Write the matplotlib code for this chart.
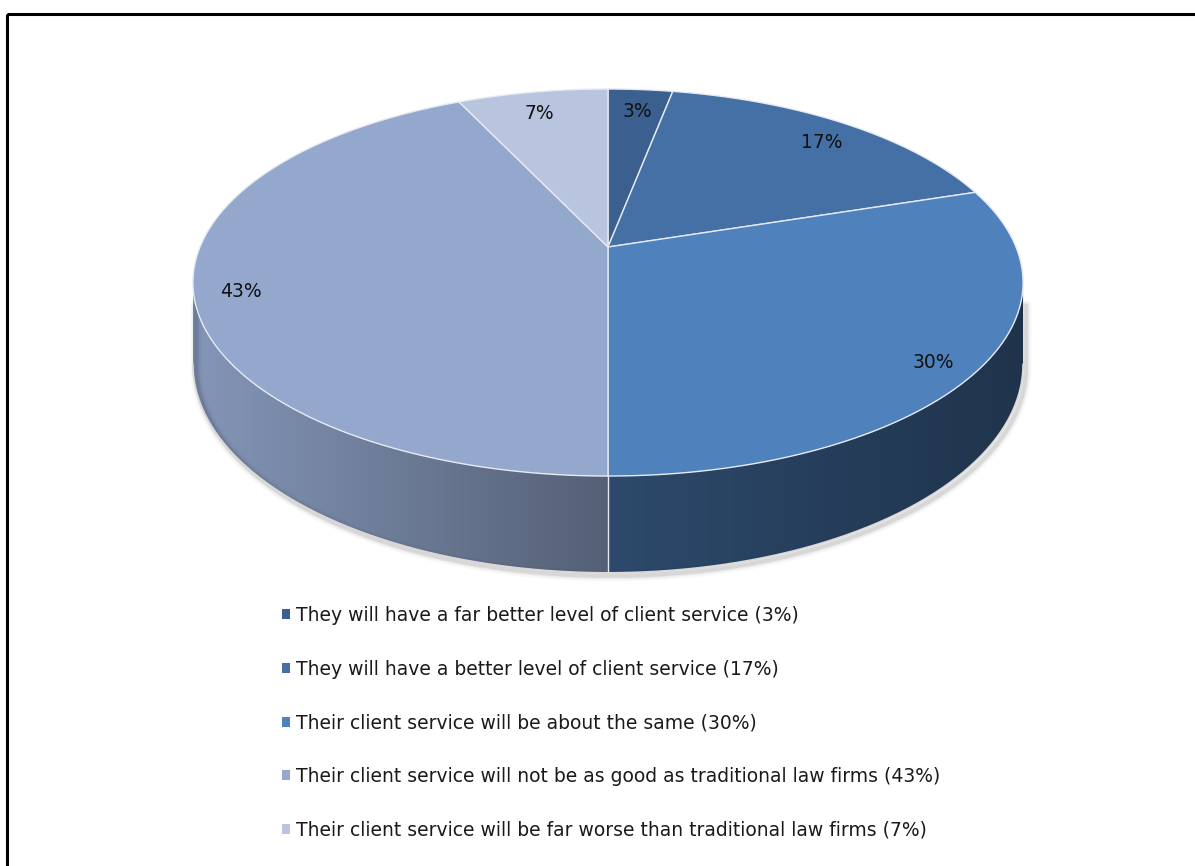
import numpy as np
import matplotlib
matplotlib.use("Agg")
import matplotlib.pyplot as plt
from matplotlib.patches import Polygon, Rectangle, Patch
from matplotlib.colors import to_rgb

plt.rcParams["font.family"] = ["DejaVu Sans"]

# survey answers, clockwise from 12 o'clock
labels = [
    "They will have a far better level of client service (3%)",
    "They will have a better level of client service (17%)",
    "Their client service will be about the same (30%)",
    "Their client service will not be as good as traditional law firms (43%)",
    "Their client service will be far worse than traditional law firms (7%)",
]
shares = [3, 17, 30, 43, 7]
pct_labels = ["3%", "17%", "30%", "43%", "7%"]
colors = ["#3B5F8E", "#4470A6", "#4F81BD", "#94A8CE", "#B9C5DE"]

W, H = 1195, 866

# disc placement in pixel units (y grows downward)
CX, CY = 608, 247
A, B = 408, 187
K = 0.1835      # perspective: far rim shrinks, near rim grows
DEPTH = 79      # thickness of the disc


def project(t, r=1.0, drop=0.0):
    u = r * np.sin(t)
    v = r * np.cos(t)
    w = 1 + K * v
    return CX + A * u / w, CY - B * v / w + drop / w


# angles where the rim turns (left / right extremes of the ellipse)
t_right = np.arccos(-K)
t_left = 2 * np.pi - t_right
x_left = CX - A / np.sqrt(1 - K ** 2)
x_right = CX + A / np.sqrt(1 - K ** 2)


def shade(x):
    # light comes from the left
    return np.interp(x, [x_left, CX, x_right], [0.89, 0.57, 0.40])


fig = plt.figure(figsize=(W / 100, H / 100), dpi=100)
ax = fig.add_axes([0, 0, 1, 1])
ax.set_xlim(0, W)
ax.set_ylim(H, 0)
ax.axis("off")

fracs = np.array(shares, dtype=float) / sum(shares)
edges = np.concatenate([[0], np.cumsum(fracs)]) * 2 * np.pi

# soft shadow around the side wall
ts = np.linspace(t_right, t_left, 300)
bx, by = project(ts, 1, DEPTH)
rx0, ry0 = project(t_right, 1)
lx0, ly0 = project(t_left, 1)
sx = np.concatenate([[rx0], bx, [lx0]])
sy = np.concatenate([[ry0 + 20], by, [ly0 + 20]])
for lw, a in [(8, 0.03), (5, 0.05), (3, 0.08)]:
    ax.plot(sx + 3, sy + 3, color="black", lw=lw, alpha=a, solid_capstyle="round")

# side walls with horizontal gradient
for i in range(len(shares)):
    a0 = max(edges[i], t_right)
    a1 = min(edges[i + 1], t_left)
    if a1 <= a0:
        continue
    tt = np.linspace(a0, a1, 200)
    tx, ty = project(tt, 1)
    bx, by = project(tt[::-1], 1, DEPTH)
    pts = np.column_stack([np.concatenate([tx, bx]), np.concatenate([ty, by])])
    clip = Polygon(pts, closed=True, facecolor="none", edgecolor="none")
    ax.add_patch(clip)
    x0, x1 = pts[:, 0].min(), pts[:, 0].max()
    y0, y1 = pts[:, 1].min(), pts[:, 1].max()
    cols = np.linspace(x0, x1, 256)
    grad = np.array(to_rgb(colors[i]))[None, :] * shade(cols)[:, None]
    img = np.repeat(grad[None, :, :], 2, axis=0)
    im = ax.imshow(img, extent=(x0, x1, y1, y0), aspect="auto", interpolation="bilinear", zorder=1)
    im.set_clip_path(clip)

# seams on the side wall
for e in edges:
    if t_right < e < t_left:
        x0, y0 = project(e, 1)
        x1, y1 = project(e, 1, DEPTH)
        ax.plot([x0, x1], [y0, y1], color="#E4E8F0", lw=1.0, zorder=2)

# bottom rim highlight
bx, by = project(ts, 1, DEPTH)
ax.plot(bx, by, color="#D8D8D8", lw=1.2, zorder=2)

# top faces
for i in range(len(shares)):
    tt = np.linspace(edges[i], edges[i + 1], 200)
    tx, ty = project(tt, 1)
    pts = np.column_stack([np.concatenate([[CX], tx]), np.concatenate([[CY], ty])])
    ax.add_patch(Polygon(pts, closed=True, facecolor=colors[i], edgecolor="#E6EAF2",
                         lw=1.0, joinstyle="round", zorder=3))

# percentage labels inside the slices
for i, txt in enumerate(pct_labels):
    mid = (edges[i] + edges[i + 1]) / 2
    lx, ly = project(mid, 0.89)
    ax.text(lx, ly + 7, txt, fontsize=13.5, color="#111111", ha="center", va="center", zorder=4)

handles = [Patch(facecolor=c, edgecolor="none") for c in colors]
ax.legend(handles, labels, loc="upper left", bbox_to_anchor=(282, 606),
          bbox_transform=ax.transData, frameon=False, fontsize=13.5,
          handlelength=0.45, handleheight=0.45, handletextpad=0.3,
          labelspacing=1.85, borderpad=0, borderaxespad=0, labelcolor="#1A1A1A")

# outer frame (only left and top edges fall inside the image)
ax.add_patch(Rectangle((7, 14), W + 20, H + 20, facecolor="none", edgecolor="black",
                       lw=2.2, zorder=5))

fig.savefig("out.png", dpi=100)
